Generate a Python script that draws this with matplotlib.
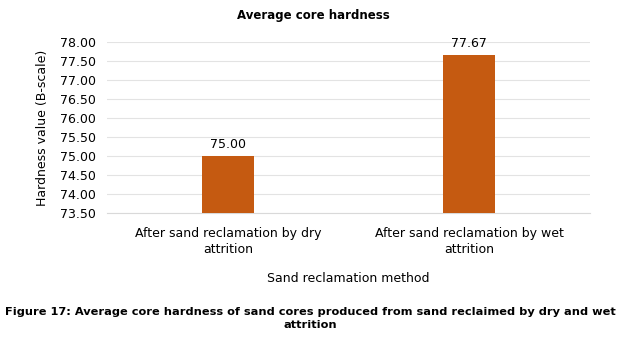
import matplotlib
matplotlib.use("Agg")
import matplotlib.pyplot as plt

categories = ["After sand reclamation by dry\nattrition", "After sand reclamation by wet\nattrition"]
values = [75.00, 77.67]
yticks = [73.50, 74.00, 74.50, 75.00, 75.50, 76.00, 76.50, 77.00, 77.50, 78.00]

plt.rcParams['font.family'] = ['DejaVu Sans']
fig = plt.figure(figsize=(6.2, 3.39), dpi=100)
ax = fig.add_axes([0.1726, 0.372, 0.779, 0.504])

x = list(range(len(categories)))
bars = ax.bar(x, values, width=0.215, color="#C55A11", zorder=3)
ax.set_xlim(-0.5, 1.5)
ax.set_ylim(73.5, 78.0)
ax.set_yticks(yticks)
ax.set_yticklabels([f"{v:.2f}" for v in yticks], fontsize=9)
ax.set_xticks(x)
ax.set_xticklabels(categories, fontsize=9, linespacing=1.3)
ax.tick_params(axis="y", length=0, pad=8)
ax.tick_params(axis="x", length=0, pad=10)
for b, v in zip(bars, values):
    ax.text(b.get_x() + b.get_width() / 2, v + 0.12, f"{v:.2f}", ha="center", va="bottom", fontsize=9)
ax.grid(axis="y", color="#e3e3e3", linewidth=0.8, zorder=0)
for s in ["top", "right", "left"]:
    ax.spines[s].set_visible(False)
ax.spines["bottom"].set_color("#d9d9d9")
ax.set_ylabel("Hardness value (B-scale)", fontsize=9, labelpad=8)
ax.set_xlabel("Sand reclamation method", fontsize=9, labelpad=12)

fig.text(0.505, 0.955, "Average core hardness", ha="center", va="center", fontsize=8.5, fontweight="bold")
fig.text(0.5, 0.06, "Figure 17: Average core hardness of sand cores produced from sand reclaimed by dry and wet\nattrition",
         ha="center", va="center", fontsize=8.2, fontweight="bold", linespacing=1.45)

fig.savefig("out.png", dpi=100)
